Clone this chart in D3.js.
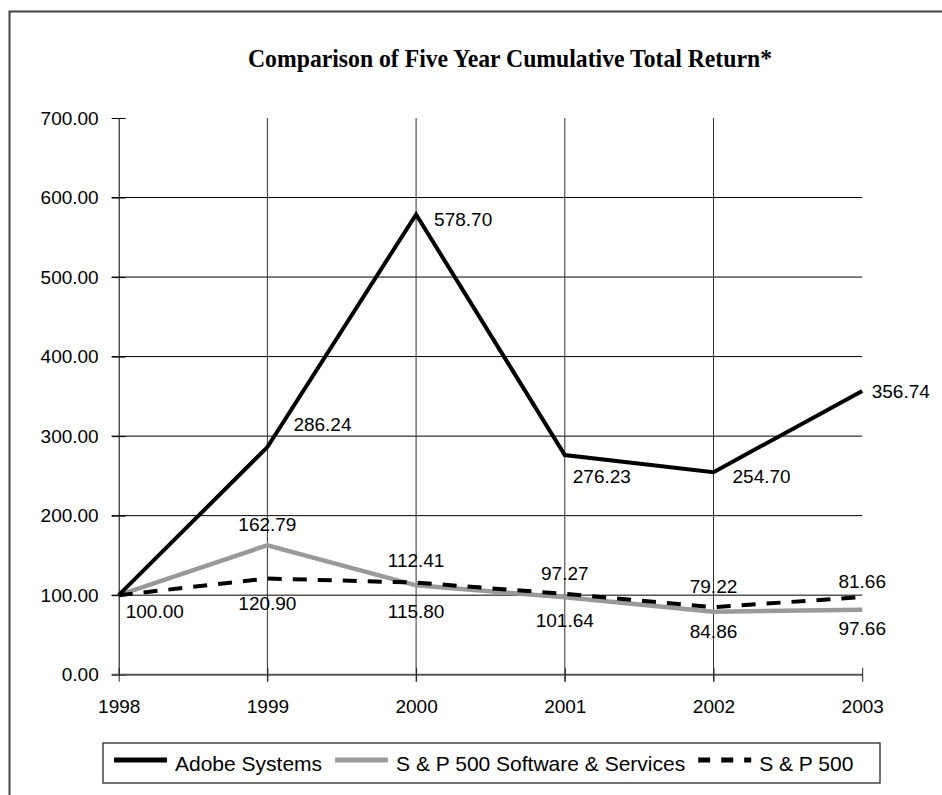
<!DOCTYPE html>
<html>
<head>
<meta charset="utf-8">
<script src="https://cdn.jsdelivr.net/npm/d3@7"></script>
<style>
  body { margin: 0; background: #fff; }
  svg { display: block; }
  text { font-family: "Liberation Sans", Arial, sans-serif; fill: #000; }
</style>
</head>
<body>
<div id="graph"></div>
<script>
// chart data
const years = ["1998", "1999", "2000", "2001", "2002", "2003"];
const adobe = [100.00, 286.24, 578.70, 276.23, 254.70, 356.74];
const swServices = [100.00, 162.79, 112.41, 97.27, 79.22, 81.66];
const sp500 = [100.00, 120.90, 115.80, 101.64, 84.86, 97.66];
const yTicks = [0, 100, 200, 300, 400, 500, 600, 700];
const seriesNames = ["Adobe Systems", "S & P 500 Software & Services", "S & P 500"];
const chartTitle = "Comparison of Five Year Cumulative Total Return*";

// label placement (offsets from each point, in px)
const adobeLabelOffset = [[7, 23], [26, -16], [18, 12], [8, 28], [19, 11], [9.5, 7]];
const swLabelDy = [null, -14, -18, -17, -19, -21.5];
const spLabelDy = [null, 31, 35, 33, 31, 38];

const W = 942, H = 795;
const plot = { left: 118.7, right: 862.2, top: 118, bottom: 674.7 };

const svg = d3.select("#graph")
    .append("svg")
    .attr("width", W)
    .attr("height", H);

// outer frame (runs off the right and bottom of the page)
svg.append("path")
    .attr("d", `M9.5,${H + 5}V11.5H${W + 5}`)
    .attr("fill", "none")
    .attr("stroke", "#444")
    .attr("stroke-width", 2);

// title
svg.append("text")
    .attr("x", 510)
    .attr("y", 67)
    .attr("text-anchor", "middle")
    .attr("textLength", 524)
    .attr("lengthAdjust", "spacingAndGlyphs")
    .style("font-family", "'Liberation Serif', 'Times New Roman', serif")
    .style("font-weight", "bold")
    .style("font-size", "25px")
    .text(chartTitle);

// scales
const x = d3.scalePoint().domain(years).range([plot.left, plot.right]);
const y = d3.scaleLinear().domain([0, 700]).range([plot.bottom, plot.top]);

// horizontal grid
svg.append("g")
    .selectAll("line")
    .data(yTicks.filter(d => d > 0 && d < 700))
    .join("line")
    .attr("x1", plot.left - 7).attr("x2", plot.right)
    .attr("y1", d => y(d)).attr("y2", d => y(d))
    .attr("stroke", "#000")
    .attr("stroke-width", 1);

// vertical grid
svg.append("g")
    .selectAll("line")
    .data(years.slice(1, -1))
    .join("line")
    .attr("x1", d => x(d)).attr("x2", d => x(d))
    .attr("y1", plot.top).attr("y2", plot.bottom + 7)
    .attr("stroke", "#333")
    .attr("stroke-width", 1);

// y axis
const yAxis = svg.append("g")
    .attr("transform", `translate(${plot.left},0)`)
    .call(d3.axisLeft(y).tickValues(yTicks).tickFormat(d3.format(".2f"))
        .tickSize(7).tickSizeOuter(0).tickPadding(13));
yAxis.selectAll("text").style("font-size", "19px").style("font-family", "'Liberation Sans', Arial, sans-serif");
yAxis.selectAll(".tick line").attr("x2", -7).attr("x1", 7).attr("stroke", "#000");
yAxis.select(".domain").attr("stroke", "#000");

// x axis
const xAxis = svg.append("g")
    .attr("transform", `translate(0,${plot.bottom})`)
    .call(d3.axisBottom(x).tickSize(7).tickSizeOuter(0).tickPadding(18));
xAxis.selectAll("text").style("font-size", "19px").style("font-family", "'Liberation Sans', Arial, sans-serif");
xAxis.selectAll(".tick line").attr("y1", -7).attr("stroke", "#222");
xAxis.select(".domain")
    .attr("d", `M${plot.left - 7},0H${plot.right}`)
    .attr("stroke", "#555")
    .attr("stroke-width", 2);

// lines
const line = d3.line()
    .x((d, i) => x(years[i]))
    .y(d => y(d));

svg.append("path")
    .datum(swServices)
    .attr("fill", "none")
    .attr("stroke", "#999")
    .attr("stroke-width", 4.5)
    .attr("d", line);

svg.append("path")
    .datum(sp500)
    .attr("fill", "none")
    .attr("stroke", "#000")
    .attr("stroke-width", 4)
    .attr("stroke-dasharray", "14,11")
    .attr("d", line);

svg.append("path")
    .datum(adobe)
    .attr("fill", "none")
    .attr("stroke", "#000")
    .attr("stroke-width", 4)
    .attr("d", line);

// data labels
const labelFont = "19px";
svg.append("g")
    .selectAll("text")
    .data(adobe)
    .join("text")
    .attr("x", (d, i) => x(years[i]) + adobeLabelOffset[i][0])
    .attr("y", (d, i) => y(d) + adobeLabelOffset[i][1])
    .style("font-size", labelFont)
    .text(d => d.toFixed(2));

svg.append("g")
    .selectAll("text")
    .data(swServices.map((v, i) => ({ v, i })).filter(d => d.i > 0))
    .join("text")
    .attr("x", d => x(years[d.i]))
    .attr("y", d => y(d.v) + swLabelDy[d.i])
    .attr("text-anchor", "middle")
    .style("font-size", labelFont)
    .text(d => d.v.toFixed(2));

svg.append("g")
    .selectAll("text")
    .data(sp500.map((v, i) => ({ v, i })).filter(d => d.i > 0))
    .join("text")
    .attr("x", d => x(years[d.i]))
    .attr("y", d => y(d.v) + spLabelDy[d.i])
    .attr("text-anchor", "middle")
    .style("font-size", labelFont)
    .text(d => d.v.toFixed(2));

// legend
const legend = svg.append("g");
legend.append("rect")
    .attr("x", 103).attr("y", 743)
    .attr("width", 777).attr("height", 40)
    .attr("fill", "none")
    .attr("stroke", "#444")
    .attr("stroke-width", 1.5);

const legendStyles = [
    { stroke: "#000", dash: null },
    { stroke: "#999", dash: null },
    { stroke: "#000", dash: "12,11" }
];
let lx = 114;
seriesNames.forEach((name, i) => {
    legend.append("line")
        .attr("x1", lx).attr("x2", lx + 53)
        .attr("y1", 760).attr("y2", 760)
        .attr("stroke", legendStyles[i].stroke)
        .attr("stroke-width", 5)
        .attr("stroke-dasharray", legendStyles[i].dash);
    const t = legend.append("text")
        .attr("x", lx + 61)
        .attr("y", 771)
        .style("font-size", "21px")
        .text(name);
    lx = lx + 61 + t.node().getComputedTextLength() + 13;
});
</script>
</body>
</html>
